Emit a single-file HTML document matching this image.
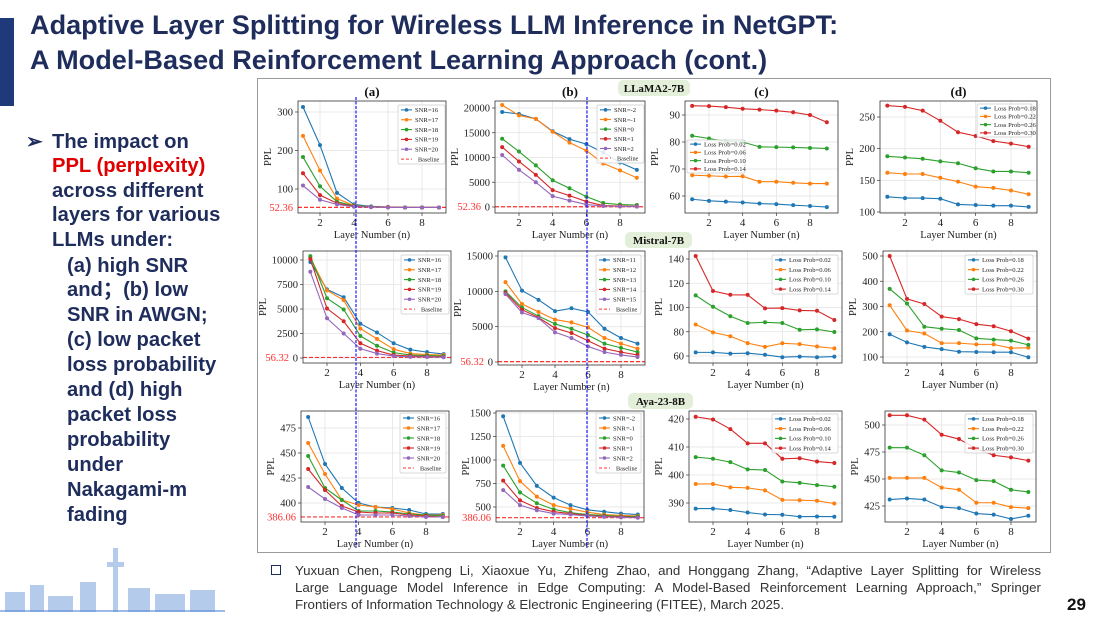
<!DOCTYPE html>
<html><head><meta charset="utf-8">
<style>
body{margin:0;width:1097px;height:619px;overflow:hidden;background:#fff;font-family:"Liberation Sans",sans-serif;position:relative}
.t{position:absolute;white-space:nowrap}
#title{left:30px;top:7px;font-size:27.1px;font-weight:bold;color:#1f2d5c;line-height:35px}
.bl{position:absolute;font-size:20.2px;font-weight:bold;color:#1f2d5c;white-space:nowrap;line-height:24px}
#ref{position:absolute;left:295px;top:562px;width:746px;font-size:13.3px;color:#333;line-height:17px}
#ref .j{text-align:justify;text-align-last:justify;white-space:nowrap}
</style></head><body>
<div style="position:absolute;left:0;top:18px;width:14px;height:88px;background:#1f3a7a"></div>
<div id="title" class="t">Adaptive Layer Splitting for Wireless LLM Inference in NetGPT:<br>A Model-Based Reinforcement Learning Approach (cont.)</div>
<div>
<div class="bl" style="left:26px;top:130px">➢</div>
<div class="bl" style="left:52px;top:130px">The impact on</div>
<div class="bl" style="left:52px;top:154px;color:#e00000">PPL (perplexity)</div>
<div class="bl" style="left:52px;top:179px">across different</div>
<div class="bl" style="left:52px;top:203px">layers for various</div>
<div class="bl" style="left:52px;top:228px">LLMs under:</div>
<div class="bl" style="left:67px;top:254px">(a) high SNR</div>
<div class="bl" style="left:67px;top:278px">and；(b) low</div>
<div class="bl" style="left:67px;top:303px">SNR in AWGN;</div>
<div class="bl" style="left:67px;top:328px">(c) low packet</div>
<div class="bl" style="left:67px;top:353px">loss probability</div>
<div class="bl" style="left:67px;top:378px">and (d) high</div>
<div class="bl" style="left:67px;top:403px">packet loss</div>
<div class="bl" style="left:67px;top:428px">probability</div>
<div class="bl" style="left:67px;top:453px">under</div>
<div class="bl" style="left:67px;top:478px">Nakagami-m</div>
<div class="bl" style="left:67px;top:503px">fading</div>
</div>
<svg style="position:absolute;left:0;top:540px" width="230" height="75">
<g fill="#5b8ed6" opacity="0.45">
<rect x="5" y="52" width="20" height="20"/><rect x="30" y="45" width="14" height="27"/><rect x="48" y="56" width="25" height="16"/>
<rect x="113" y="8" width="5" height="64"/><rect x="107" y="22" width="17" height="5"/><rect x="80" y="42" width="16" height="30"/>
<rect x="128" y="48" width="22" height="24"/><rect x="155" y="54" width="30" height="18"/><rect x="190" y="50" width="25" height="22"/>
</g><rect x="0" y="70" width="225" height="2" fill="#5b8ed6" opacity="0.6"/></svg>
<svg id="fig" style="position:absolute;left:0;top:0" width="1097" height="619" font-family="Liberation Serif, serif"></svg>
<div style="position:absolute;left:271px;top:565px;width:8px;height:8px;border:1.5px solid #1f2d5c"></div>
<div id="ref"><div class="j">Yuxuan Chen, Rongpeng Li, Xiaoxue Yu, Zhifeng Zhao, and Honggang Zhang, “Adaptive Layer Splitting for Wireless</div><div class="j">Large Language Model Inference in Edge Computing: A Model-Based Reinforcement Learning Approach,” Springer</div><div>Frontiers of Information Technology &amp; Electronic Engineering (FITEE), March 2025.</div></div>
<div class="t" style="left:1067px;top:595px;font-size:17px;font-weight:bold;color:#111">29</div>
<script>
const layers=[1,2,3,4,5,6,7,8,9];
const a1Labels=["SNR=16","SNR=17","SNR=18","SNR=19","SNR=20"];
const a1Data=[[313,214,90,60,55,53,52,52,52],[238,148,75,57,54,53,52,52,52],[183,107,67,56,54,53,52,52,52],[141,84,63,55,53,53,52,52,52],[109,72,60,54,53,52,52,52,52]];
const b1Labels=["SNR=-2","SNR=-1","SNR=0","SNR=1","SNR=2"];
const b1Data=[[19200,18800,17800,15300,13700,12700,11000,9000,7500],[20600,18500,17800,15200,13000,11400,8800,7400,5900],[13800,11200,8400,5400,3800,2100,800,500,400],[12100,9200,6500,3400,2300,1100,300,200,150],[10500,7500,5000,2200,1300,500,200,100,80]];
const cLabels=["Loss Prob=0.02","Loss Prob=0.06","Loss Prob=0.10","Loss Prob=0.14"];
const dLabels=["Loss Prob=0.18","Loss Prob=0.22","Loss Prob=0.26","Loss Prob=0.30"];
const c1Data=[[58.8,58.2,57.9,57.6,57.2,57.0,56.6,56.3,55.9],[67.7,67.5,67.2,67.3,65.3,65.3,64.9,64.6,64.6],[82.3,81.3,80.2,80.0,78.2,78.1,78.0,77.8,77.6],[93.4,93.3,92.9,92.3,92.0,91.6,91.0,90.0,87.3]];
const d1Data=[[124,122,122,121,112,111,110,110,108],[162,160,160,154,148,140,138,134,128],[188,186,184,180,177,169,164,164,162],[268,266,260,244,226,220,212,208,203]];
const a2Data=[[9800,7000,6200,3500,2600,1500,850,600,400],[10200,6900,5900,3000,1950,900,450,350,300],[10400,6100,4950,2250,1250,550,300,250,200],[10100,5050,3750,1500,750,300,200,150,120],[8800,4050,2500,950,450,200,120,100,80]];
const b2Labels=["SNR=11","SNR=12","SNR=13","SNR=14","SNR=15"];
const b2Data=[[14800,10100,8800,7200,7600,7100,4700,3400,2600],[11300,8200,7100,6000,5600,4900,3400,2600,1900],[10000,7700,6500,5400,4700,3800,2600,2000,1400],[9800,7400,6300,4800,4100,3000,1900,1400,1000],[9600,7000,6200,4200,3400,2200,1400,1000,700]];
const c2Data=[[63,63,62,62.3,61,59,59.5,59,59.5],[86,79.5,76.3,70.6,67.5,70.5,69.8,67.8,66.3],[110,100.6,92.8,87.2,87.8,87.2,81.6,82,79.8],[142.5,113.6,110.5,110.4,99.3,99.5,97.6,97.3,89.7]];
const d2Data=[[190,158,140,131,121,120,119,119,99],[305,205,193,155,155,150,150,135,137],[370,312,220,212,207,174,169,165,148],[500,330,310,260,250,230,222,202,173]];
const a3Data=[[486,439,415,400,396,395,393,389,389],[460,429,403,398,396,394,390,388,388],[447,415,403,392,392,391,389,388,387],[434,413,397,391,390,390,388,387,386],[416,404,395,388,388,388,387,386,386]];
const b3Data=[[1465,970,725,600,520,470,450,430,420],[1150,775,610,520,480,445,420,410,405],[940,655,540,475,440,420,410,400,400],[780,570,490,450,430,410,400,395,390],[680,520,465,430,420,405,395,390,385]];
const c3Data=[[388,388,387.5,386.6,385.9,385.8,385.1,385.2,385.1],[396.8,396.8,395.6,395.4,394.5,391.1,391.0,390.8,389.8],[406.4,405.8,404.6,402,401.8,397.7,397.2,396.4,395.8],[420.8,419.8,416.4,411.3,411.3,405.8,406,404.8,404.3]];
const d3Data=[[431,432,431,424,423,418,417,413,416],[451,451,451,442,440,428,428,424,423],[479,479,472,458,456,449,448,440,438],[509,509,505,491,487,478,472,470,467]];
const xTicks=[2,4,6,8];
const a1Ticks=[100,200,300], b1Ticks=[0,5000,10000,15000,20000], c1Ticks=[60,70,80,90], d1Ticks=[100,150,200,250];
const a2Ticks=[0,2500,5000,7500,10000], b2Ticks=[0,5000,10000,15000], c2Ticks=[60,80,100,120,140], d2Ticks=[100,200,300,400,500];
const a3Ticks=[400,425,450,475], b3Ticks=[500,750,1000,1250,1500], c3Ticks=[390,400,410,420], d3Ticks=[425,450,475,500];
const baselines={r1:52.36,r2:56.32,r3:386.06};
const colors=["#1f77b4","#ff7f0e","#2ca02c","#d62728","#9467bd"];
const NS="http://www.w3.org/2000/svg";
const svg=document.getElementById('fig');
function mk(tag,at,parent){const e=document.createElementNS(NS,tag);for(const k in at)e.setAttribute(k,at[k]);(parent||svg).appendChild(e);return e;}
const fr=mk('rect',{x:257.5,y:78.5,width:793,height:474,fill:'none',stroke:'#9a9a9a','stroke-width':1});


function panel(name,box,xp,ym,ticks,data,labels,base,leg,title){
  const g=mk('g',{});
  
  
  const [x0,y0,x1,y1]=box;
  const X=v=>xp[0]+(v-2)*(xp[1]-xp[0])/6;
  const Y=v=>ym[0][1]+(v-ym[0][0])*(ym[1][1]-ym[0][1])/(ym[1][0]-ym[0][0]);
  mk('rect',{x:x0,y:y0,width:x1-x0,height:y1-y0,fill:'#fff'},g);
  xTicks.forEach(t=>{mk('line',{x1:X(t),x2:X(t),y1:y0,y2:y1,stroke:'#e3e3e3','stroke-width':0.8},g);
    mk('line',{x1:X(t),x2:X(t),y1:y1,y2:y1+3,stroke:'#333','stroke-width':0.7},g);
    const tx=mk('text',{x:X(t),y:y1+13,'font-size':11,'text-anchor':'middle',fill:'#222'},g);tx.textContent=t;});
  ticks.forEach(t=>{const y=Y(t);mk('line',{x1:x0,x2:x1,y1:y,y2:y,stroke:'#e3e3e3','stroke-width':0.8},g);
    mk('line',{x1:x0-3,x2:x0,y1:y,y2:y,stroke:'#333','stroke-width':0.7},g);
    const tx=mk('text',{x:x0-5,y:y+3.5,'font-size':10.5,'text-anchor':'end',fill:'#222'},g);tx.textContent=t;});
  if(base!==null){const y=Y(base);mk('line',{x1:x0,x2:x1,y1:y,y2:y,stroke:'#ff3030','stroke-width':1.2,'stroke-dasharray':'4,2'},g);
    const tx=mk('text',{x:x0-(ticks[0]===0?14:5),y:y+3.5,'font-size':10.5,'text-anchor':'end',fill:'#ff3333'},g);tx.textContent=base;}
  data.forEach((s,i)=>{const pts=s.map((v,j)=>X(layers[j])+','+Y(v)).join(' ');
    const pl=mk('polyline',{points:pts,fill:'none',stroke:colors[i],'stroke-width':1.1},g);
    
    
    s.forEach((v,j)=>{mk('circle',{cx:X(layers[j]),cy:Y(v),r:2,fill:colors[i]},g);});});
  mk('rect',{x:x0,y:y0,width:x1-x0,height:y1-y0,fill:'none',stroke:'#333','stroke-width':0.8},g);
  const xl=mk('text',{x:(x0+x1)/2,y:y1+25,'font-size':10.5,'text-anchor':'middle',fill:'#222'},g);xl.textContent='Layer Number (n)';
  const yl=mk('text',{x:0,y:0,'font-size':10.5,'text-anchor':'middle',fill:'#222',transform:`translate(${x0-(String(ticks[ticks.length-1]).length>=5?37:27)},${(y0+y1)/2}) rotate(-90)`},g);yl.textContent='PPL';
  if(title){const tt=mk('text',{x:(x0+x1)/2,y:y0-5,'font-size':13,'font-weight':'bold','text-anchor':'middle',fill:'#111'},g);tt.textContent=title;}
  const [lx0,ly0,lx1,ly1]=leg;const n=labels.length+(base!==null?1:0);
  const lg=mk('g',{},g);
  
  
  mk('rect',{x:lx0,y:ly0,width:lx1-lx0,height:ly1-ly0,fill:'#fff','fill-opacity':0.85,stroke:'#ccc','stroke-width':0.7,rx:1.5},lg);
  const step=(ly1-ly0)/n;
  labels.forEach((l,i)=>{const y=ly0+step*(i+0.5);mk('line',{x1:lx0+3,x2:lx0+14,y1:y,y2:y,stroke:colors[i],'stroke-width':1.1},lg);
    mk('circle',{cx:lx0+8.5,cy:y,r:1.8,fill:colors[i]},lg);
    const tx=mk('text',{x:lx0+17,y:y+2.3,'font-size':6.6,fill:'#222'},lg);tx.textContent=l;});
  if(base!==null){const y=ly0+step*(labels.length+0.5);mk('line',{x1:lx0+3,x2:lx0+14,y1:y,y2:y,stroke:'#ff3030','stroke-width':1,'stroke-dasharray':'3,2'},lg);
    const tx=mk('text',{x:lx0+20,y:y+2.3,'font-size':6.2,fill:'#222'},lg);tx.textContent='Baseline';}
}
panel('panel-a-llama',[298,101,446,213],[320,422],[[100,189],[300,112]],a1Ticks,a1Data,a1Labels,baselines.r1,[398,105,445,164],'(a)');
panel('panel-b-llama',[495,101,645,213],[519,620],[[0,207],[20000,108]],b1Ticks,b1Data,b1Labels,baselines.r1,[597,105,644,163],'(b)');
panel('panel-c-llama',[685,101,838,213],[709,810],[[60,196],[90,115]],c1Ticks,c1Data,cLabels,null,[687,140,745,173],'(c)');
panel('panel-d-llama',[880,101,1037,213],[905,1011],[[100,212],[250,117]],d1Ticks,d1Data,dLabels,null,[977,104,1032,137],'(d)');
panel('panel-a-mistral',[303,251,451,363],[327,427],[[0,358],[10000,260]],a2Ticks,a2Data,a1Labels,baselines.r2,[401,255,449,314],null);
panel('panel-b-mistral',[498,251,645,365],[522,621],[[0,362],[15000,256]],b2Ticks,b2Data,b2Labels,baselines.r2,[596,255,641,314],null);
panel('panel-c-mistral',[689,251,842,363],[713,817],[[60,356],[140,259]],c2Ticks,c2Data,cLabels,null,[772,255,838,294],null);
panel('panel-d-mistral',[883,251,1037,363],[907,1011],[[100,357],[500,256]],d2Ticks,d2Data,dLabels,null,[965,255,1033,294],null);
panel('panel-a-aya',[301,411,449,522],[325,426],[[400,503],[475,428]],a3Ticks,a3Data,a1Labels,baselines.r3,[400,413,446,473],null);
panel('panel-b-aya',[496,411,644,522],[520,621],[[500,507],[1500,413]],b3Ticks,b3Data,b1Labels,baselines.r3,[596,413,641,473],null);
panel('panel-c-aya',[689,411,842,522],[713,817],[[390,503],[420,419]],c3Ticks,c3Data,cLabels,null,[772,414,838,453],null);
panel('panel-d-aya',[885,411,1036,522],[907,1011],[[425,506],[500,425]],d3Ticks,d3Data,dLabels,null,[965,414,1033,453],null);
[[356,'split-line-a'],[587,'split-line-b']].forEach(([x,nm])=>{const l=mk('line',{x1:x,x2:x,y1:97,y2:548,stroke:'#1a1aff','stroke-width':1.2,'stroke-dasharray':'3,1.5'});
  
  });
[['LLaMA2-7B',618,80,72],['Mistral-7B',625,232,67],['Aya-23-8B',628,393,65]].forEach(([t,x,y,w])=>{
  const g=mk('g',{});
  
  
  mk('rect',{x:x,y:y,width:w,height:16,rx:5,fill:'#e3efd9'},g);
  const tx=mk('text',{x:x+w/2,y:y+12,'font-size':11,'font-weight':'bold','text-anchor':'middle',fill:'#111'},g);tx.textContent=t;});
</script>
</body></html>
